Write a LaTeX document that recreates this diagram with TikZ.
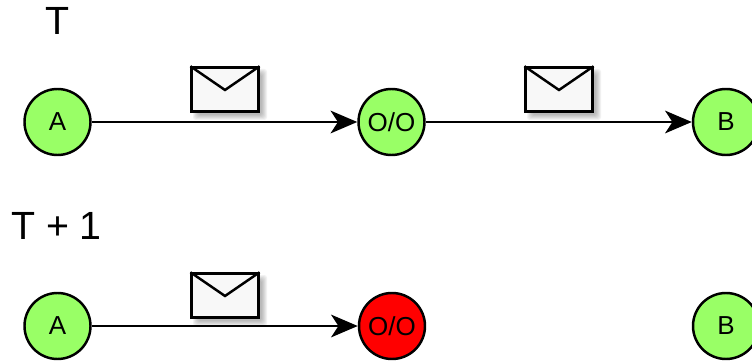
\documentclass[tikz,border=0pt]{standalone}
\usepackage{fontspec}
\setmainfont{Liberation Sans}
\usetikzlibrary{arrows.meta,calc}
\definecolor{nodegreen}{HTML}{99FF66}
\definecolor{envfill}{HTML}{F8F8F8}
\tikzset{
  x=0.75pt,y=-0.75pt,
  statenode/.style={circle,draw=black,line width=1.85pt,minimum size=49.5pt,inner sep=0pt,fill=nodegreen,font=\fontsize{19.5pt}{21pt}\selectfont},
  failed/.style={statenode,fill=red},
  envelope/.style={rectangle,draw=black,line width=1.85pt,fill=envfill,minimum width=50pt,minimum height=33pt,inner sep=0pt},
  flow/.style={draw=black,line width=1.85pt,-{Stealth[length=20pt,width=17pt,inset=5.5pt]}},
  heading/.style={font=\fontsize{29.5pt}{32pt}\selectfont,inner sep=0pt},
  shadowlayer/.style={fill=black,draw=none,opacity=0.05}
}
\newcommand{\envshadow}[2]{%
  \foreach \g in {0,1,2,3,4,5}{
    \fill[shadowlayer,rounded corners=2pt] (#1-34+5-\g+2,#2-22.5+5-\g+2) rectangle (#1+34+5+\g-2,#2+22.5+5+\g-2);
  }}
\newcommand{\envlines}[1]{%
  \draw[black,line width=1.85pt,line join=miter] (#1.north west) -- ($(#1.center)+(0,0.5)$) -- (#1.north east);}
\begin{document}
\begin{tikzpicture}
\useasboundingbox (0,0) rectangle (752,363);
\node[heading] (t0) at (58,21) {T};
\node[heading] (t1) at (56.5,226) {T + 1};
\node[statenode] (a0) at (57.5,122) {A};
\node[statenode] (o0) at (391.5,122) {O/O};
\node[statenode] (b0) at (726,122) {B};
\node[statenode] (a1) at (57.5,326) {A};
\node[failed] (o1) at (392,326) {O/O};
\node[statenode] (b1) at (726,326) {B};
\draw[flow] (a0) -- (o0);
\draw[flow] (o0) -- (b0);
\draw[flow] (a1) -- (o1);
\envshadow{225}{89.5}
\envshadow{559}{89.5}
\envshadow{225}{295.5}
\node[envelope] (e0) at (225,89.5) {};
\node[envelope] (e1) at (559,89.5) {};
\node[envelope] (e2) at (225,295.5) {};
\envlines{e0}
\envlines{e1}
\envlines{e2}
\end{tikzpicture}
\end{document}
